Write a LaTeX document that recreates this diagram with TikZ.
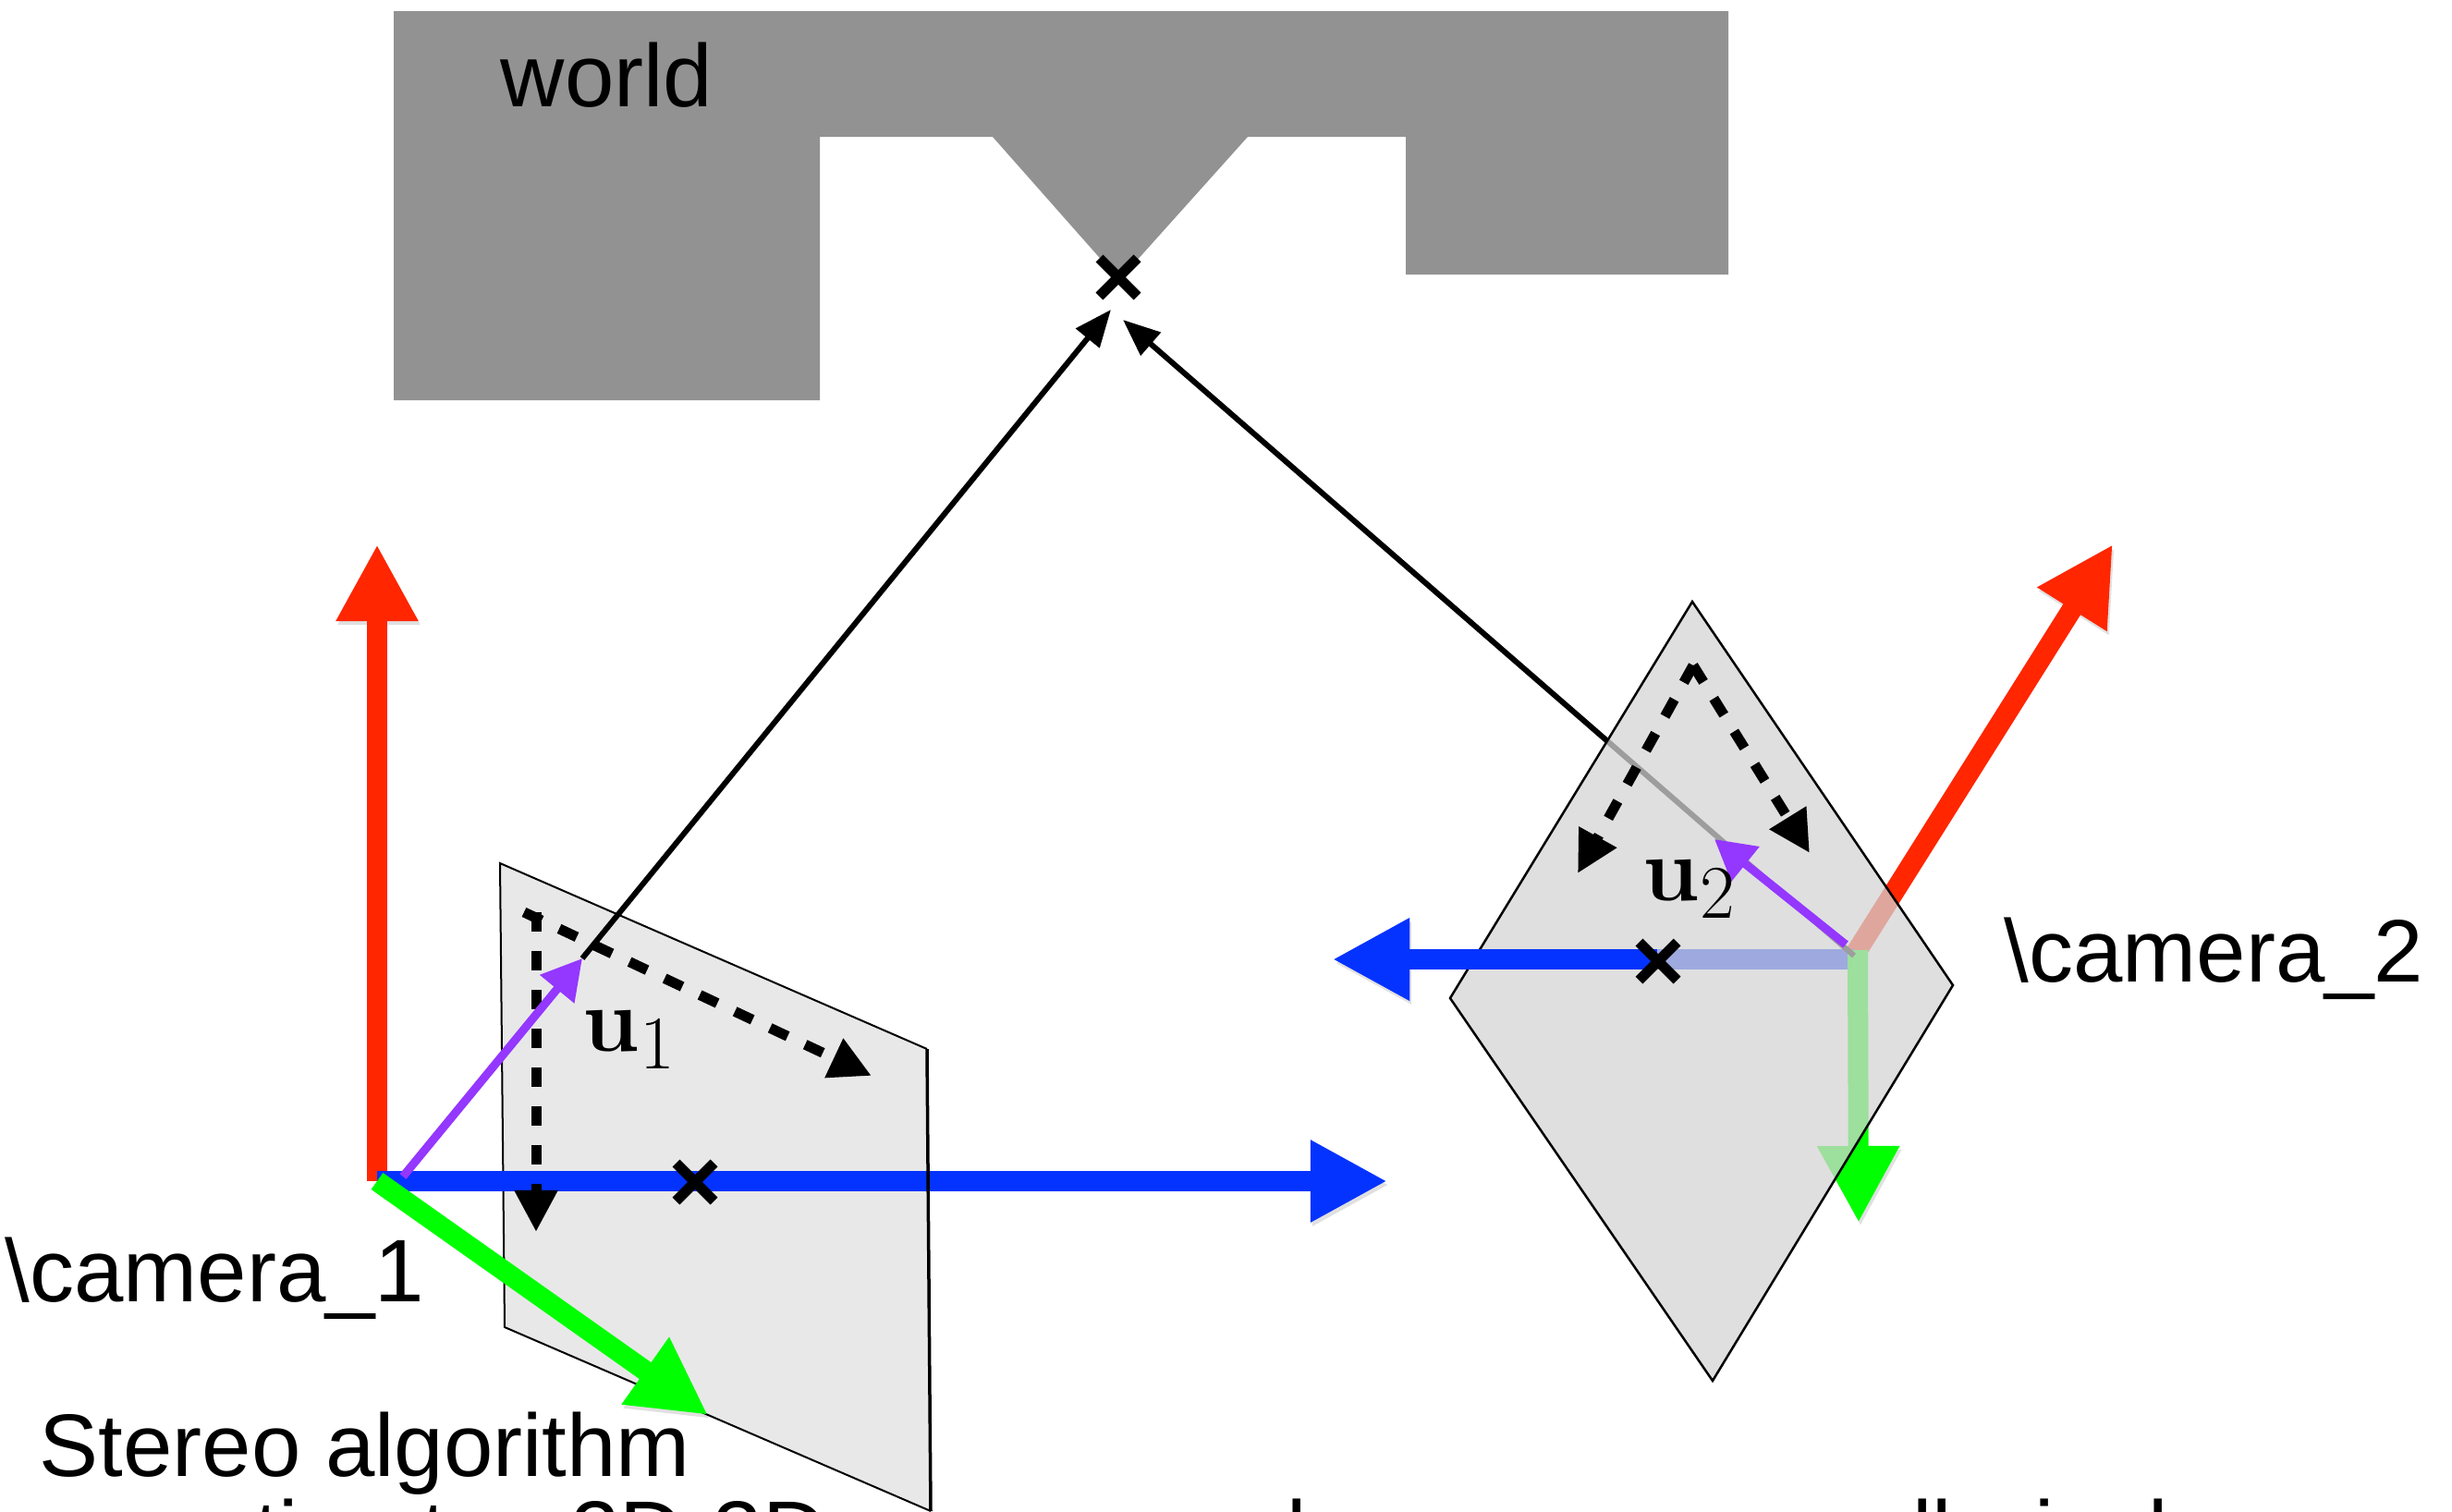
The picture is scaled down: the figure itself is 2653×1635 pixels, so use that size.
\documentclass[tikz,border=0pt]{standalone}
\usepackage{amsmath}
\usepackage[no-math]{fontspec}
\setmainfont{Liberation Sans}
\usetikzlibrary{arrows.meta,shapes.misc}
\definecolor{worldgray}{HTML}{929292}
\definecolor{axred}{HTML}{FF2600}
\definecolor{axgreen}{HTML}{00FF00}
\definecolor{axblue}{HTML}{0433FF}
\definecolor{raypurple}{HTML}{9437FF}
\tikzset{
  axis/.style={line width=.22cm,-{Triangle[length=.83cm,width=.83cm]},
    preaction={draw=black,opacity=.12,transform canvas={xshift=.02cm,yshift=-.04cm}}},
  ray/.style={black,line width=.06cm,-{Triangle[length=.40cm,width=.32cm]}},
  pix/.style={raypurple,line width=.09cm,-{Triangle[length=.43cm,width=.46cm]}},
  edgedash/.style={black,line width=.11cm,dash pattern=on .21cm off .21cm,-{Triangle[length=.45cm,width=.44cm]}},
  crossmark/.style={cross out,draw=black,line width=.11cm,inner sep=0pt,minimum size=.3cm},
  label/.style={anchor=base west,inner sep=0pt},
  ulabel/.style={label,font=\fontsize{24.88}{30}\selectfont,scale=1.125,transform shape},
}
\begin{document}
\begin{tikzpicture}[x=0.01cm,y=-0.01cm,every node/.style={font=\fontsize{27.3}{32}\selectfont}]
  \clip (0,0) rectangle (2653,1635);
  % world profile
  \fill[worldgray] (426,12) -- (1870,12) -- (1870,297) -- (1521,297) -- (1521,148) -- (1350,148)
    -- (1211,303) -- (1074,148) -- (887,148) -- (887,433) -- (426,433) -- cycle;
  \node[label] (world) at (541,115) {world};
  \node[crossmark] (ptw) at (1210,300) {};
  \coordinate (raya) at (1202,335);
  \coordinate (rayb) at (1215,346);
  % first camera
  \coordinate (ca) at (408,1278);
  \coordinate (pa) at (630,1037);
  \fill[black!9] (541,934) -- (1003,1135) -- (1007,1635) -- (546,1436) -- cycle;
  \draw[line width=.02cm] (1003,1135) -- (541,934) -- (546,1436) -- (1007,1635);
  \coordinate (ax) at (408,589);
  \coordinate (ay) at (1501,1278);
  \coordinate (az) at (766,1531);
  \draw[axis,axred] (ca) -- (ax);
  \draw[axis,axblue] (ca |- ay) -- (ay);
  \draw[axis,axgreen] (ca) -- (az);
  \draw[line width=.035cm] (1003,1135) -- (1007,1635);
  \coordinate (da) at (580,987);
  \coordinate (db) at (580,1333);
  \coordinate (dc) at (567,987);
  \coordinate (dd) at (943,1164);
  \draw[edgedash] (da) -- (db);
  \draw[edgedash] (dc) -- (dd);
  \coordinate (pb) at (436,1273);
  \draw[ray] (pa) -- (raya);
  \draw[pix] (pb) -- (pa);
  \node[crossmark] (xa) at (752,1279) {};
  \node[ulabel] (ua) at (630,1137) {$\mathbf{u}_1$};
  \node[label] (cama) at (5,1408) {\textbackslash camera\_1};
  % second camera, its image plane lies over the axes
  \coordinate (cb) at (2006,1034);
  \coordinate (bx) at (2286,589);
  \coordinate (by) at (1442,1038);
  \coordinate (bz) at (2011,1323);
  \coordinate (bo) at (1793,1038);
  \coordinate (qa) at (1855,908);
  \coordinate (qb) at (1997,1022);
  \draw[axis,axred] (cb) -- (bx);
  \draw[axis,axblue] (cb |- by) -- (by);
  \draw[axis,axgreen] (2010,1028) -- (bz);
  \draw[ray] (cb) -- (rayb);
  \draw[line width=.025cm,fill=black!17,fill opacity=.74]
    (1831,651) -- (2113,1066) -- (1853,1494) -- (1569,1080) -- cycle;
  \draw[axblue,line width=.22cm,-{Triangle[length=.83cm,width=.83cm]}] (bo) -- (by);
  \coordinate (de) at (1832,720);
  \coordinate (df) at (1707,945);
  \coordinate (dg) at (1958,923);
  \draw[edgedash] (de) -- (df);
  \draw[edgedash] (de) -- (dg);
  \draw[pix] (qb) -- (qa);
  \node[crossmark] (xb) at (1794,1040) {};
  \node[ulabel] (ub) at (1777,974) {$\mathbf{u}_2$};
  \node[label] (camb) at (2168,1062) {\textbackslash camera\_2};
  % caption, cut by the page
  \node[label] (algo) at (42,1597) {Stereo algorithm};
  \node[label] (est) at (173,1691) {estimates\hspace{.06cm} 2D-3D\hspace{.12cm} correspondences\hspace{.1cm} across all\hspace{.1cm} pixels};
\end{tikzpicture}
\end{document}
